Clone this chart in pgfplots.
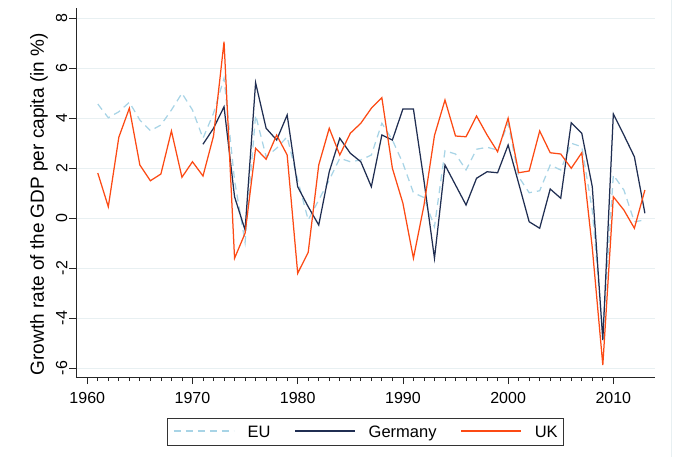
\documentclass[border=0pt]{standalone}
\usepackage{fontspec}
\setmainfont{Liberation Sans}
\usepackage{pgfplots}
\pgfplotsset{compat=1.18}
\usepackage{pgfplotstable}

\definecolor{eublue}{RGB}{168,212,230}
\definecolor{denavy}{RGB}{32,46,82}
\definecolor{ukorange}{RGB}{252,74,20}
\definecolor{gridc}{RGB}{232,240,242}

% growth rate of GDP per capita, in %
\pgfplotstableread{
year gr
1961 4.56
1962 4.01
1963 4.25
1964 4.63
1965 3.92
1966 3.49
1967 3.72
1968 4.32
1969 4.99
1970 4.32
1971 3.19
1972 4.19
1973 5.59
1974 1.50
1975 -0.98
1976 4.12
1977 2.45
1978 2.79
1979 3.25
1980 1.52
1981 -0.08
1982 0.72
1983 1.52
1984 2.39
1985 2.25
1986 2.32
1987 2.52
1988 3.79
1989 3.12
1990 2.19
1991 1.01
1992 0.82
1993 -0.35
1994 2.69
1995 2.56
1996 1.92
1997 2.75
1998 2.83
1999 2.72
2000 3.79
2001 1.65
2002 1.01
2003 1.09
2004 2.12
2005 1.92
2006 2.99
2007 2.85
2008 0.30
2009 -4.60
2010 1.72
2011 1.12
2012 -0.15
2013 -0.08
}\eudata

\pgfplotstableread{
year gr
1971 2.95
1972 3.59
1973 4.45
1974 0.85
1975 -0.48
1976 5.41
1977 3.59
1978 3.12
1979 4.12
1980 1.25
1981 0.45
1982 -0.28
1983 1.85
1984 3.19
1985 2.59
1986 2.25
1987 1.25
1988 3.32
1989 3.12
1990 4.36
1991 4.36
1992 1.50
1993 -1.61
1994 2.12
1995 1.32
1996 0.52
1997 1.59
1998 1.85
1999 1.81
2000 2.92
2001 1.39
2002 -0.15
2003 -0.41
2004 1.16
2005 0.79
2006 3.81
2007 3.39
2008 1.25
2009 -4.88
2010 4.16
2011 3.32
2012 2.45
2013 0.19
}\dedata

\pgfplotstableread{
year gr
1961 1.80
1962 0.45
1963 3.23
1964 4.39
1965 2.12
1966 1.49
1967 1.76
1968 3.48
1969 1.63
1970 2.25
1971 1.68
1972 3.28
1973 7.05
1974 -1.61
1975 -0.61
1976 2.79
1977 2.35
1978 3.32
1979 2.52
1980 -2.21
1981 -1.37
1982 2.12
1983 3.59
1984 2.52
1985 3.39
1986 3.79
1987 4.39
1988 4.81
1989 1.99
1990 0.59
1991 -1.61
1992 0.50
1993 3.30
1994 4.72
1995 3.28
1996 3.25
1997 4.08
1998 3.32
1999 2.65
2000 3.99
2001 1.81
2002 1.88
2003 3.48
2004 2.61
2005 2.56
2006 1.99
2007 2.61
2008 -1.20
2009 -5.88
2010 0.85
2011 0.32
2012 -0.41
2013 1.12
}\ukdata

\begin{document}
\begin{tikzpicture}
\useasboundingbox (-76bp,-80bp) rectangle (616bp,377bp);
\draw[color=gridc, line width=0.8bp] (595bp,-80bp) -- (595bp,377bp);
\begin{axis}[
  at={(0,0)}, anchor=south west,
  scale only axis, width=579bp, height=369bp,
  xmin=1958.93, xmax=2013.96, ymin=-6.36, ymax=8.4,
  axis x line*=bottom, axis y line*=left,
  axis line style={line width=0.9bp, color=black!85},
  xtick={1960,1970,...,2010}, minor x tick num=9,
  ytick={-6,-4,...,8},
  tick align=outside, major tick length=7bp, minor tick length=4bp,
  tick style={line width=0.8bp, color=black!85},
  ymajorgrids, major grid style={color=gridc, line width=1bp},
  /pgf/number format/assume math mode=true,
  /pgf/number format/1000 sep={},
  tick label style={font=\fontsize{16bp}{19bp}\selectfont},
  xticklabel style={anchor=center},
  xticklabel shift=14bp,
  yticklabel style={rotate=90, anchor=center},
  yticklabel shift=7.3bp,
  ylabel={Growth rate of the GDP per capita (in \%)},
  ylabel style={at={(axis description cs:-0.0639,0.468)}, anchor=center,
    font=\fontsize{19bp}{22bp}\selectfont},
  legend columns=3,
  legend image code/.code={\draw[#1] (0bp,5.9bp) -- (60bp,5.9bp);},
  legend style={at={(axis description cs:0.5,0)}, anchor=center, yshift=-55bp,
    draw=black!80, line width=0.8bp, inner xsep=6bp, inner ysep=7bp,
    font=\fontsize{16.5bp}{19bp}\selectfont,
    nodes={inner sep=0pt, anchor=base west},
    /tikz/every odd column/.append style={column sep=13bp},
    /tikz/every even column/.append style={column sep=24bp}},
]
\addplot[eublue, line width=1.25bp, dash pattern=on 7bp off 5bp] table[x=year, y=gr] {\eudata};
\addlegendentry{EU}
\addplot[denavy, line width=1.25bp] table[x=year, y=gr] {\dedata};
\addlegendentry{Germany}
\addplot[ukorange, line width=1.25bp] table[x=year, y=gr] {\ukdata};
\addlegendentry{UK}
\end{axis}
\end{tikzpicture}
\end{document}
